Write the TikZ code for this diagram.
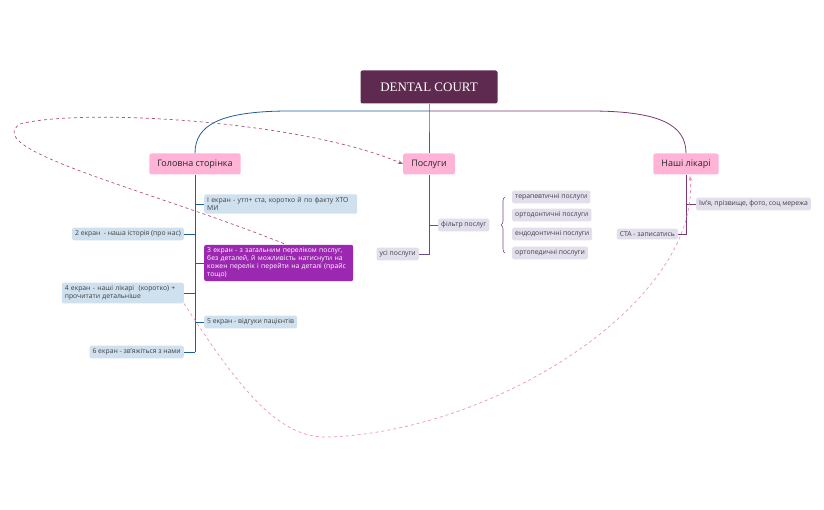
\documentclass[tikz,border=0pt]{standalone}
\usepackage{fontspec}
\setmainfont{Open Sans}
\newfontfamily\serifx{Liberation Serif}
\usetikzlibrary{arrows.meta,decorations.pathreplacing}
\definecolor{rootc}{HTML}{5E2A50}
\definecolor{pinkc}{HTML}{FFB3D6}
\definecolor{bluec}{HTML}{CFE0EE}
\definecolor{lavc}{HTML}{E3DEEC}
\definecolor{purpc}{HTML}{9C27B0}
\definecolor{linb}{HTML}{1F5F99}
\definecolor{linp}{HTML}{6E4A8E}
\definecolor{linm}{HTML}{7A3A70}
\definecolor{dash1}{HTML}{B0507E}
\definecolor{dash2}{HTML}{EB94B8}
\tikzset{
 root/.style={fill=rootc,text=white,rounded corners=2pt,minimum width=137pt,minimum height=33pt,font=\serifx\fontsize{13}{14}\selectfont},
 main/.style={fill=pinkc,text=black!85,rounded corners=2pt,minimum height=21pt,inner xsep=8pt,font=\fontsize{9}{10}\selectfont},
 leafb/.style={fill=bluec,text=black!75,rounded corners=2pt,inner xsep=3pt,inner ysep=3pt,align=left,font=\fontsize{6.8}{8}\selectfont},
 leafl/.style={leafb,fill=lavc},
 leafp/.style={leafb,fill=purpc,text=white},
}
\begin{document}
\begin{tikzpicture}[x=1pt,y=-1pt]
\useasboundingbox (0,0) rectangle (824,510);
\node[root] (r) at (429,87) {DENTAL COURT};
\node[main] (g) at (195,164) {Головна сторінка};
\node[main] (p) at (429,164) {Послуги};
\node[main] (l) at (686,164) {Наші лікарі};
\coordinate (j) at (429,111);
\draw[linp,line width=0.8pt] (r.south) -- (j) -- (p.north);
\draw[linb,line width=0.8pt] (j) -- (290,111) .. controls (220,111) and (195,125) .. (g.north);
\draw[linm,line width=0.8pt] (j) -- (590,111) .. controls (660,111) and (686,125) .. (l.north);
% Golovna children
\node[leafb,anchor=west,text width=147pt] (g1) at (204,204) {І екран - утп+ ста, коротко й по факту ХТО МИ};
\node[leafb,anchor=east] (g2) at (184,234) {2 екран \ - наша історія (про нас)};
\node[leafp,anchor=west,text width=143pt] (g3) at (204,263) {3 екран - з загальним переліком послуг, без деталей, й можливість натиснути на кожен перелік і перейти на деталі (прайс тощо)};
\node[leafb,anchor=east,text width=116pt] (g4) at (184,293) {4 екран - наші лікарі \ (коротко) + прочитати детальніше};
\node[leafb,anchor=west] (g5) at (204,322) {5 екран - відгуки пацієнтів};
\node[leafb,anchor=east] (g6) at (184,352) {6 екран - зв'яжіться з нами};
\coordinate (gb) at (195,352);
\draw[linb,line width=0.8pt] (g.south) -- (gb);
\foreach \n/\y in {g1/204,g3/263,g5/322}{\draw[linb,line width=0.8pt] (195,\y) -- (\n.west);}
\foreach \n/\y in {g2/234,g4/293,g6/352}{\draw[linb,line width=0.8pt] (195,\y) -- (\n.east);}
% Posluhy
\node[leafl,anchor=east] (p1) at (419,254) {усі послуги};
\node[leafl,anchor=west] (p2) at (438,225) {фільтр послуг};
\draw[linp,line width=0.8pt] (p.south) -- (429,254) -- (p1.east);
\draw[linp,line width=0.8pt] (429,225) -- (p2.west);
\node[leafl,anchor=west] (s1) at (512,197) {терапевтичні послуги};
\node[leafl,anchor=west] (s2) at (512,215) {ортодонтичні послуги};
\node[leafl,anchor=west] (s3) at (512,234) {ендодонтичні послуги};
\node[leafl,anchor=west] (s4) at (512,253) {ортопедичні послуги};
\draw[linp,line width=0.6pt,decorate,decoration={brace,amplitude=4pt}] (505,253) -- (505,197);
% Likari
\node[leafl,anchor=east] (l1) at (678,234) {СТА - записатись};
\node[leafl,anchor=west] (l2) at (696,204) {Ім'я, прізвище, фото, соц мережа};
\draw[linm,line width=0.8pt] (l.south) -- (686,234) -- (l1.east);
\draw[linm,line width=0.8pt] (686,204) -- (l2.west);
% dashed relations
\draw[dash1,dashed,line width=0.7pt,-{Stealth[length=5pt]}] (g3.north west) ++(80,-1) .. controls (150,190) and (-20,150) .. (20,124) .. controls (80,108) and (300,120) .. (p.west);
\draw[dash2,dashed,line width=0.7pt,-{Stealth[length=5pt]}] (g4.south east) .. controls (240,390) and (280,440) .. (330,437) .. controls (500,430) and (700,300) .. (690,176);
\end{tikzpicture}
\end{document}
